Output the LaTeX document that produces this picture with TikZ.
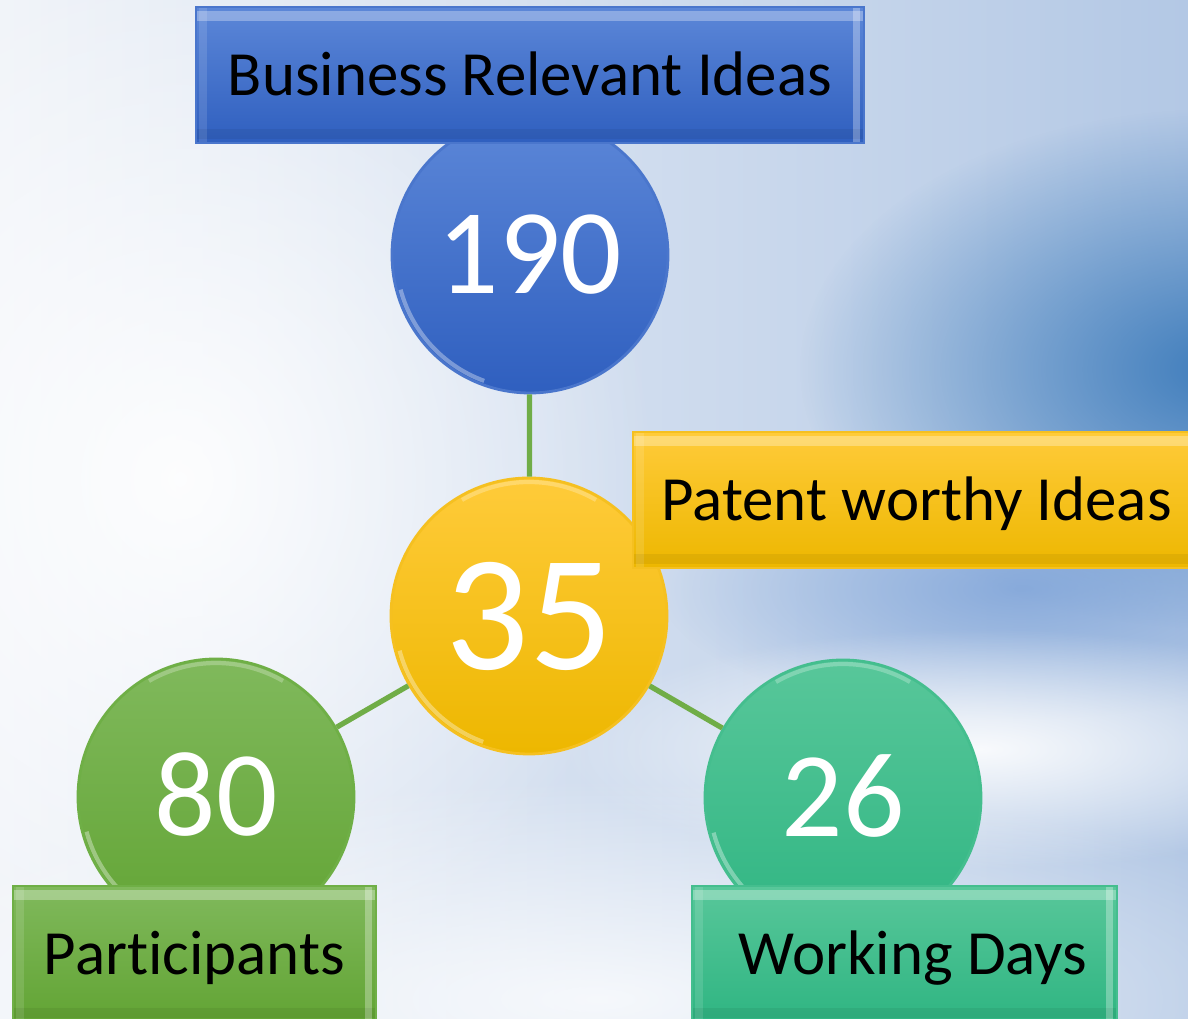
\documentclass[tikz,border=0pt]{standalone}
\usepackage{fontspec}
\setmainfont{Carlito}[Ligatures=NoCommon]
\usetikzlibrary{fadings}

\definecolor{skylight}{HTML}{F1F4F9}
\definecolor{skyright}{HTML}{B3C8E5}
\definecolor{skydeep}{HTML}{3F7DBC}
\definecolor{skymid}{HTML}{7CA2D8}
\definecolor{bluetop}{HTML}{5C87D8}
\definecolor{bluebot}{HTML}{2F5FBF}
\definecolor{bluerim}{HTML}{4A76CC}
\definecolor{goldtop}{HTML}{FFCB3A}
\definecolor{goldbot}{HTML}{EDB700}
\definecolor{goldrim}{HTML}{F5C020}
\definecolor{leaftop}{HTML}{80B95C}
\definecolor{leafbot}{HTML}{62A434}
\definecolor{leafrim}{HTML}{6FAF46}
\definecolor{mintop}{HTML}{58C79A}
\definecolor{minbot}{HTML}{2FB582}
\definecolor{minrim}{HTML}{44BE8E}
\definecolor{linkgreen}{HTML}{70AD47}

\tikzfading[name=softblob, inner color=transparent!0, outer color=transparent!100]

\tikzset{
  bubble/.style={circle, minimum size=2.76cm, inner sep=0pt, text=white,
    line width=0.8pt, text height=0.78cm, text depth=0pt,
    font=\fontsize{34.5}{36}\selectfont,
    path picture={
      \draw[white, opacity=.35, line width=1.2pt]
        ([shift={(195:1.34)}]path picture bounding box.center)
        arc[start angle=195, end angle=250, radius=1.34cm];
      \draw[white, opacity=.25, line width=1.2pt]
        ([shift={(60:1.34)}]path picture bounding box.center)
        arc[start angle=60, end angle=120, radius=1.34cm];
    }},
  tag/.style={rectangle, minimum height=1.36cm, inner sep=0pt, text=black,
    line width=0.6pt, text height=0.41cm, text depth=0pt,
    font=\fontsize{17.9}{20}\selectfont,
    path picture={
      \draw[white, opacity=.3, line width=3pt]
        ([yshift=-2.5pt]path picture bounding box.north west) --
        ([yshift=-2.5pt]path picture bounding box.north east);
      \draw[white, opacity=.12, line width=2.5pt]
        ([xshift=2pt]path picture bounding box.north west) --
        ([xshift=2pt]path picture bounding box.south west);
      \draw[white, opacity=.3, line width=2pt]
        ([xshift=-2pt]path picture bounding box.north east) --
        ([xshift=-2pt]path picture bounding box.south east);
      \draw[black, opacity=.06, line width=3pt]
        ([yshift=2.5pt]path picture bounding box.south west) --
        ([yshift=2.5pt]path picture bounding box.south east);
    }},
  link/.style={draw=linkgreen, line width=1.5pt}
}

\begin{document}
\begin{tikzpicture}
\path[use as bounding box, clip] (0,0) rectangle (11.88,10.19);

\shade[left color=skylight, right color=skyright] (0,0) rectangle (11.88,10.19);
\fill[skydeep, path fading=softblob] (12.2,6.5) ellipse (4.2 and 2.6);
\fill[skymid, opacity=.8, path fading=softblob] (10.2,4.3) ellipse (3.6 and 1.3);
\fill[white, opacity=.9, path fading=softblob] (9.8,2.7) ellipse (4.2 and 1.2);
\fill[white, opacity=.9, path fading=softblob] (1.8,5.4) ellipse (4.8 and 5.2);
\fill[white, opacity=.8, path fading=softblob] (6,0.2) ellipse (8 and 2.2);

\node[bubble, top color=bluetop, bottom color=bluebot, draw=bluerim] (ideas) at (5.30,7.64) {190};
\node[bubble, top color=goldtop, bottom color=goldbot, draw=goldrim,
      font=\fontsize{47}{50}\selectfont, text height=1.07cm] (patents) at (5.29,4.03) {35};
\node[bubble, top color=leaftop, bottom color=leafbot, draw=leafrim] (people) at (2.16,2.22) {80};
\node[bubble, top color=mintop, bottom color=minbot, draw=minrim] (days) at (8.43,2.21) {26};

\draw[link] (ideas) -- (patents);
\draw[link] (patents) -- (people);
\draw[link] (patents) -- (days);

\node[tag, minimum width=6.68cm, top color=bluetop, bottom color=bluebot, draw=bluerim] (ideaslabel) at (5.30,9.44) {Business Relevant Ideas};
\node[tag, minimum width=5.67cm, top color=goldtop, bottom color=goldbot, draw=goldrim] (patentslabel) at (9.165,5.19) {Patent worthy Ideas};
\node[tag, minimum width=3.63cm, top color=leaftop, bottom color=leafbot, draw=leafrim] (peoplelabel) at (1.945,0.65) {Participants};
\node[tag, minimum width=4.25cm, top color=mintop, bottom color=minbot, draw=minrim] (dayslabel) at (9.045,0.65) {\hspace*{0.17cm}Working Days};
\end{tikzpicture}
\end{document}
